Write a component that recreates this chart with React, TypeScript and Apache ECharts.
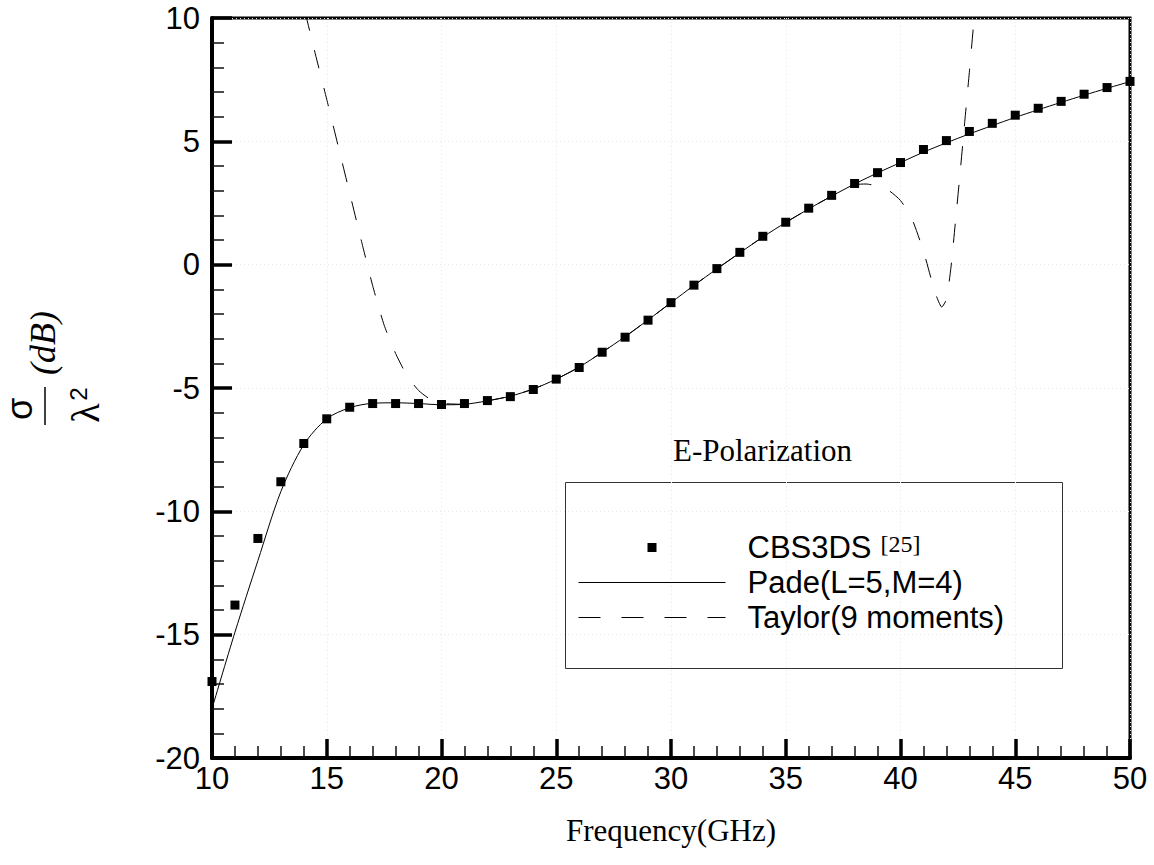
import React, { useEffect, useRef } from 'react';
import * as echarts from 'echarts';

const freq = [10, 11, 12, 13, 14, 15, 16, 17, 18, 19, 20, 21, 22, 23, 24, 25, 26, 27, 28, 29, 30,
  31, 32, 33, 34, 35, 36, 37, 38, 39, 40, 41, 42, 43, 44, 45, 46, 47, 48, 49, 50];

const cbs3ds = [-16.9, -13.8, -11.1, -8.8, -7.25, -6.25, -5.78, -5.63, -5.63, -5.63, -5.67,
  -5.63, -5.51, -5.35, -5.06, -4.64, -4.17, -3.55, -2.94, -2.25, -1.54,
  -0.83, -0.16, 0.5, 1.15, 1.72, 2.29, 2.81, 3.29, 3.73, 4.14,
  4.67, 5.03, 5.4, 5.73, 6.06, 6.34, 6.62, 6.91, 7.18, 7.43];

const pade = [-18.0, -14.9, -12.0, -9.2, -7.3, -6.25, -5.8, -5.62, -5.6, -5.63, -5.68,
  -5.66, -5.52, -5.33, -5.04, -4.64, -4.15, -3.55, -2.92, -2.24, -1.54,
  -0.84, -0.17, 0.48, 1.12, 1.71, 2.26, 2.78, 3.27, 3.72, 4.14,
  4.56, 4.94, 5.3, 5.64, 5.97, 6.28, 6.58, 6.87, 7.15, 7.42];

const taylorFreq = [13.8, 14.0, 14.5, 15.0, 15.5, 16.0, 16.5, 17.0, 17.5, 18.0, 18.5, 19.0, 19.5,
  20, 21, 22, 23, 24, 25, 26, 27, 28, 29, 30, 31, 32, 33, 34, 35, 36, 37, 37.5, 38, 38.5,
  39.0, 39.5, 40.0, 40.5, 41.0, 41.5, 41.8, 42.0, 42.2, 42.4, 42.6, 42.8, 43.0, 43.2, 43.3];
const taylor = [11.8, 10.5, 8.55, 6.7, 4.8, 2.9, 1.0, -0.85, -2.45, -3.6, -4.5, -5.1, -5.45,
  -5.62, -5.66, -5.52, -5.33, -5.04, -4.64, -4.15, -3.55, -2.92, -2.24, -1.54, -0.84, -0.17,
  0.48, 1.12, 1.71, 2.26, 2.78, 3.02, 3.24, 3.27,
  3.18, 3.0, 2.6, 1.85, 0.55, -1.1, -1.72, -1.4, -0.1, 1.8, 3.75, 5.8, 7.8, 9.9, 10.9];

const seriesNames = ['CBS3DS', 'Pade(L=5,M=4)', 'Taylor(9 moments)'];
const legendRef = '[25]';
const plotTitle = 'E-Polarization';
const xName = 'Frequency(GHz)';

const sans = "'Liberation Sans', Arial, Helvetica, sans-serif";
const serif = "'Liberation Serif', 'Times New Roman', serif";

export default function App() {
  const ref = useRef<HTMLDivElement>(null);
  useEffect(() => {
    if (!ref.current) return;
    const chart = echarts.init(ref.current, undefined, { renderer: 'svg' });
    chart.setOption({
      animation: false,
      backgroundColor: '#fff',
      grid: { left: 212, right: 24, top: 18, bottom: 107, show: true, borderColor: '#000', borderWidth: 3 },
      xAxis: {
        type: 'value', min: 10, max: 50, interval: 5,
        name: xName, nameLocation: 'middle', nameGap: 57,
        nameTextStyle: { fontFamily: serif, fontSize: 31, color: '#000' },
        axisLine: { show: true, onZero: false, lineStyle: { color: '#000', width: 4 } },
        axisTick: { show: true, inside: true, length: 19, lineStyle: { color: '#000', width: 3.5 } },
        minorTick: { show: true, splitNumber: 5, length: 12, lineStyle: { color: '#111', width: 1.5 } },
        axisLabel: { fontFamily: sans, fontSize: 31, color: '#000', margin: 5 },
        splitLine: { show: true, lineStyle: { type: [1, 3], color: '#e8e8e8', width: 1 } },
      },
      yAxis: {
        type: 'value', min: -20, max: 10, interval: 5,
        axisLine: { show: true, onZero: false, lineStyle: { color: '#000', width: 4 } },
        axisTick: { show: true, inside: true, length: 20, lineStyle: { color: '#000', width: 3.5 } },
        minorTick: { show: true, splitNumber: 5, length: 12, lineStyle: { color: '#111', width: 1.5 } },
        axisLabel: { fontFamily: sans, fontSize: 31, color: '#000', margin: 12 },
        splitLine: { show: true, lineStyle: { type: [1, 3], color: '#e8e8e8', width: 1 } },
      },
      legend: {
        orient: 'vertical', left: 578, top: 532, padding: 0,
        itemWidth: 147, itemHeight: 9, itemGap: 4,
        selectedMode: false,
        lineStyle: { width: 1 },
        textStyle: {
          color: '#000', fontSize: 31, fontFamily: sans, lineHeight: 31,
          rich: {
            a: { color: '#000', fontSize: 31, fontFamily: sans, lineHeight: 31, padding: [0, 0, 0, 17] },
            b: { color: '#000', fontSize: 24, fontFamily: serif, lineHeight: 24, verticalAlign: 'top', padding: [0, 0, 0, 9] },
          },
        },
        formatter: (name: string) => (name === seriesNames[0] ? `{a|${name}}{b|${legendRef}}` : `{a|${name}}`),
        data: [
          { name: seriesNames[0], icon: 'path://M0,0L10,0L10,10L0,10Z', itemStyle: { opacity: 1 } },
          { name: seriesNames[1], itemStyle: { opacity: 0 } },
          { name: seriesNames[2], itemStyle: { opacity: 0 }, lineStyle: { type: [22, 21], width: 1 } },
        ],
      },
      series: [
        {
          type: 'line', name: seriesNames[1], data: freq.map((f, i) => [f, pade[i]]),
          symbol: 'none', smooth: 0.3, lineStyle: { color: '#000', width: 1 }, itemStyle: { color: '#000' }, z: 2,
        },
        {
          type: 'line', name: seriesNames[2], data: taylorFreq.map((f, i) => [f, taylor[i]]),
          symbol: 'none', smooth: 0.2, lineStyle: { color: '#000', width: 1, type: [19, 20] }, itemStyle: { color: '#000' }, z: 2,
        },
        {
          type: 'scatter', name: seriesNames[0], data: freq.map((f, i) => [f, cbs3ds[i]]),
          symbol: 'rect', symbolSize: 9, itemStyle: { color: '#000', opacity: 1 }, z: 3,
        },
      ],
      graphic: [
        { type: 'rect', shape: { x: 565.5, y: 482.5, width: 497, height: 186 }, style: { fill: 'none', stroke: '#333', lineWidth: 1 } },
        { type: 'text', x: 673, y: 450, style: { text: plotTitle, fontSize: 31, fontFamily: serif, fill: '#000', align: 'left', verticalAlign: 'middle' } },
        { type: 'text', x: 19.5, y: 409, rotation: Math.PI / 2, style: { text: 'σ', fontSize: 36, fontFamily: sans, fill: '#000', align: 'center', verticalAlign: 'middle' } },
        { type: 'line', shape: { x1: 45, y1: 387, x2: 45, y2: 425 }, style: { stroke: '#000', lineWidth: 1.5 } },
        { type: 'text', x: 85, y: 413, rotation: Math.PI / 2, style: { text: 'λ', fontSize: 40, fontFamily: serif, fill: '#000', align: 'center', verticalAlign: 'middle' } },
        { type: 'text', x: 78.5, y: 394, rotation: Math.PI / 2, style: { text: '2', fontSize: 24, fontFamily: sans, fill: '#000', align: 'center', verticalAlign: 'middle' } },
        { type: 'text', x: 43, y: 343, rotation: Math.PI / 2, style: { text: '(dB)', fontSize: 36, fontFamily: serif, fontStyle: 'italic', fill: '#000', align: 'center', verticalAlign: 'middle' } },
      ],
    });
    return () => chart.dispose();
  }, []);
  return <div ref={ref} style={{ position: 'absolute', left: 0, top: 0, width: 1154, height: 865 }} />;
}
